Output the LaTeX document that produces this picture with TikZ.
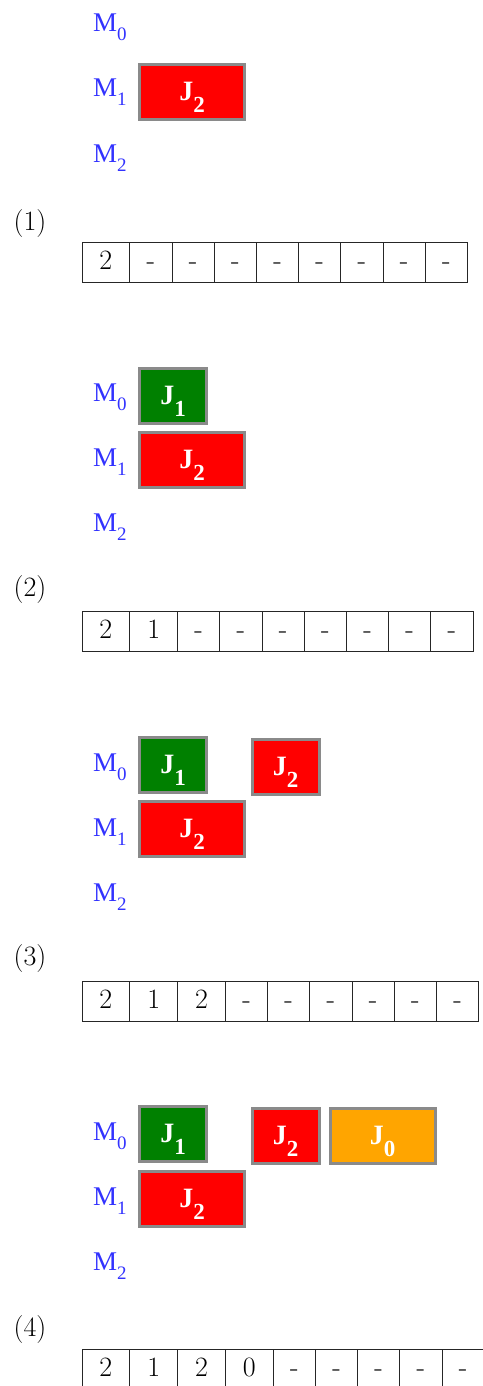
\documentclass[tikz,border=0pt]{standalone}
\usepackage{fontspec}
\usetikzlibrary{positioning}
\newfontfamily\ganttfont{Liberation Serif}
\definecolor{jred}{RGB}{255,0,0}
\definecolor{jgreen}{RGB}{0,128,0}
\definecolor{jorange}{RGB}{255,165,0}
\definecolor{mblue}{RGB}{50,50,255}
\definecolor{jborder}{RGB}{138,138,138}
\newcommand{\msub}[1]{\raisebox{-9pt}{\fontsize{19}{19}\selectfont #1}}
\newcommand{\jsub}[1]{\raisebox{-12pt}{\fontsize{23}{23}\selectfont #1}}
\begin{document}
\begin{tikzpicture}[x=1pt,y=-1pt,
  mlabel/.style={anchor=base west,inner sep=0pt,text=mblue,font=\ganttfont\fontsize{27}{27}\selectfont},
  jobbox/.style={draw=jborder,line width=3pt,minimum height=55pt,inner sep=0pt,outer sep=0pt,
    text=white,text height=17pt,text depth=0pt,font=\ganttfont\bfseries\fontsize{28}{28}\selectfont},
  shortjob/.style={jobbox,minimum width=67pt},
  longjob/.style={jobbox,minimum width=105pt},
  steplabel/.style={inner sep=0pt,font=\fontsize{28}{34}\selectfont},
  cell/.style={draw=black!85,line width=1pt,inner sep=0pt,outer sep=0pt,
    text height=27pt,text depth=13pt,font=\fontsize{28}{34}\selectfont}]
\useasboundingbox (0,0) rectangle (482,1386);

% (1)
\node[mlabel] (p1m0) at (93,32) {M\msub{0}};
\node[mlabel] (p1m1) at (93,97) {M\msub{1}};
\node[mlabel] (p1m2) at (93,162) {M\msub{2}};
\node[longjob,fill=jred] (p1j2) at (192,92) {J\jsub{2}};
\node[steplabel] (p1lab) at (30,224) {(1)};
\coordinate (p1c0) at (82,262);
\foreach \v [count=\i] in {2,-,-,-,-,-,-,-,-} {
  \pgfmathtruncatemacro\prev{\i-1}
  \if-\v\def\cw{42.2pt}\else\def\cw{47.8pt}\fi
  \node[cell,minimum width=\cw,right=0pt of p1c\prev] (p1c\i) {\v};
}

% (2)
\node[mlabel] (p2m0) at (93,401) {M\msub{0}};
\node[mlabel] (p2m1) at (93,466) {M\msub{1}};
\node[mlabel] (p2m2) at (93,531) {M\msub{2}};
\node[shortjob,fill=jgreen] (p2j1) at (173,396) {J\jsub{1}};
\node[longjob,fill=jred] (p2j2) at (192,460) {J\jsub{2}};
\node[steplabel] (p2lab) at (30,590) {(2)};
\coordinate (p2c0) at (82,631);
\foreach \v [count=\i] in {2,1,-,-,-,-,-,-,-} {
  \pgfmathtruncatemacro\prev{\i-1}
  \if-\v\def\cw{42.2pt}\else\def\cw{47.8pt}\fi
  \node[cell,minimum width=\cw,right=0pt of p2c\prev] (p2c\i) {\v};
}

% (3)
\node[mlabel] (p3m0) at (93,771) {M\msub{0}};
\node[mlabel] (p3m1) at (93,836) {M\msub{1}};
\node[mlabel] (p3m2) at (93,901) {M\msub{2}};
\node[shortjob,fill=jgreen] (p3j1) at (173,765) {J\jsub{1}};
\node[shortjob,fill=jred] (p3j2a) at (285.5,767) {J\jsub{2}};
\node[longjob,fill=jred] (p3j2b) at (192,829) {J\jsub{2}};
\node[steplabel] (p3lab) at (30,959) {(3)};
\coordinate (p3c0) at (82,1001);
\foreach \v [count=\i] in {2,1,2,-,-,-,-,-,-} {
  \pgfmathtruncatemacro\prev{\i-1}
  \if-\v\def\cw{42.2pt}\else\def\cw{47.8pt}\fi
  \node[cell,minimum width=\cw,right=0pt of p3c\prev] (p3c\i) {\v};
}

% (4)
\node[mlabel] (p4m0) at (93,1140) {M\msub{0}};
\node[mlabel] (p4m1) at (93,1205) {M\msub{1}};
\node[mlabel] (p4m2) at (93,1270) {M\msub{2}};
\node[shortjob,fill=jgreen] (p4j1) at (173,1134) {J\jsub{1}};
\node[shortjob,fill=jred] (p4j2a) at (285.5,1136) {J\jsub{2}};
\node[longjob,fill=jorange] (p4j0) at (382.5,1136) {J\jsub{0}};
\node[longjob,fill=jred] (p4j2b) at (192,1198.5) {J\jsub{2}};
\node[steplabel] (p4lab) at (30,1329) {(4)};
\coordinate (p4c0) at (82,1369);
\foreach \v [count=\i] in {2,1,2,0,-,-,-,-,-} {
  \pgfmathtruncatemacro\prev{\i-1}
  \if-\v\def\cw{42.2pt}\else\def\cw{47.8pt}\fi
  \node[cell,minimum width=\cw,right=0pt of p4c\prev] (p4c\i) {\v};
}
\end{tikzpicture}
\end{document}
